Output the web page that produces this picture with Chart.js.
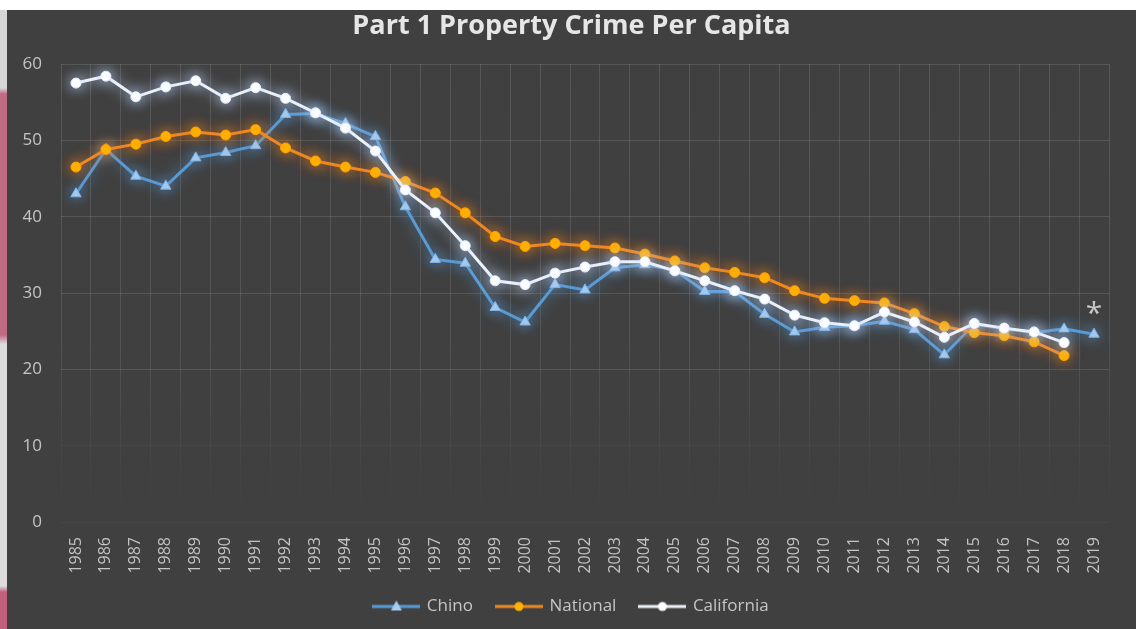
<!DOCTYPE html>
<html>
<head>
<meta charset="utf-8">
<script src="https://cdn.jsdelivr.net/npm/chart.js@4.4.1/dist/chart.umd.min.js"></script>
<style>
  html, body { margin: 0; padding: 0; background: #ffffff; width: 1136px; height: 629px; overflow: hidden; }
  #strip { position: absolute; left: 0; top: 10px; width: 7px; height: 619px;
    background: linear-gradient(to bottom, #d6d6d6 0px, #d6d6d6 78px, #c06a83 84px, #c06a83 325px, #dcdcdc 334px, #dcdcdc 576px, #c25f7e 582px, #c25f7e 619px); }
  #wrap { position: absolute; left: 7px; top: 10px; width: 1129px; height: 619px; background: #404040; }
</style>
</head>
<body>
<div id="strip"></div>
<div id="wrap"><canvas id="c" width="1129" height="619"></canvas></div>
<script>
const years = ['1985','1986','1987','1988','1989','1990','1991','1992','1993','1994','1995','1996','1997','1998','1999','2000','2001','2002','2003','2004','2005','2006','2007','2008','2009','2010','2011','2012','2013','2014','2015','2016','2017','2018','2019'];
const chino = [43.0, 48.8, 45.3, 44.0, 47.7, 48.4, 49.3, 53.4, 53.5, 52.2, 50.5, 41.3, 34.4, 33.9, 28.1, 26.2, 31.1, 30.4, 33.3, 33.7, 33.0, 30.2, 30.2, 27.2, 24.9, 25.5, 25.7, 26.3, 25.2, 21.9, 25.9, 25.3, 24.8, 25.3, 24.6];
const national = [46.5, 48.8, 49.5, 50.5, 51.1, 50.7, 51.4, 49.0, 47.3, 46.5, 45.8, 44.6, 43.1, 40.5, 37.4, 36.1, 36.5, 36.2, 35.9, 35.1, 34.2, 33.3, 32.7, 32.0, 30.3, 29.3, 29.0, 28.7, 27.3, 25.6, 24.8, 24.4, 23.6, 21.8, null];
const california = [57.5, 58.4, 55.7, 57.0, 57.8, 55.5, 56.9, 55.5, 53.6, 51.6, 48.6, 43.5, 40.5, 36.2, 31.6, 31.1, 32.6, 33.4, 34.1, 34.1, 32.9, 31.6, 30.3, 29.2, 27.1, 26.1, 25.7, 27.5, 26.2, 24.2, 26.0, 25.4, 24.9, 23.5, null];
const yTicks = [0, 10, 20, 30, 40, 50, 60];
const seriesNames = ['Chino', 'National', 'California'];
const noteText = '*';

const styles = [
  { line: '#5b9bd5', point: '#a9cdf0', pointBorder: '#7fb2e5', glow: 'rgba(91,155,213,0.95)', shape: 'triangle', r: 6 },
  { line: '#f08a24', point: '#ffb300', pointBorder: '#ffa000', glow: 'rgba(240,130,30,0.9)', shape: 'circle', r: 5 },
  { line: '#eef3fb', point: '#ffffff', pointBorder: '#e6eefa', glow: 'rgba(190,215,255,0.95)', shape: 'circle', r: 5 }
];

function legendIcon(s) {
  const cv = document.createElement('canvas');
  cv.width = 48; cv.height = 14;
  const g = cv.getContext('2d');
  g.strokeStyle = s.line; g.lineWidth = 3;
  g.beginPath(); g.moveTo(0, 7); g.lineTo(48, 7); g.stroke();
  g.fillStyle = s.point;
  if (s.shape === 'triangle') {
    g.beginPath(); g.moveTo(24, 1); g.lineTo(29.5, 11); g.lineTo(18.5, 11); g.closePath(); g.fill();
  } else {
    g.beginPath(); g.arc(24, 7, 4.5, 0, Math.PI * 2); g.fill();
  }
  return cv;
}

const datasets = [chino, national, california].map((d, i) => ({
  label: seriesNames[i],
  data: d,
  borderColor: styles[i].line,
  backgroundColor: styles[i].point,
  pointBackgroundColor: styles[i].point,
  pointBorderColor: styles[i].pointBorder,
  pointBorderWidth: 1,
  pointStyle: styles[i].shape,
  pointRadius: styles[i].r,
  borderWidth: 3,
  tension: 0,
  spanGaps: false,
  order: 3 - i
}));

const glowPlugin = {
  id: 'glow',
  beforeDatasetDraw(chart, args) {
    const ctx = chart.ctx;
    ctx.save();
    ctx.shadowColor = styles[args.index].glow;
    ctx.shadowBlur = 14;
  },
  afterDatasetDraw(chart) { chart.ctx.restore(); }
};

const notePlugin = {
  id: 'note',
  afterDatasetsDraw(chart) {
    const ctx = chart.ctx;
    const xs = chart.scales.x, ys = chart.scales.y;
    const idx = years.length - 1;
    const x = xs.getPixelForValue(idx);
    const y = ys.getPixelForValue(chino[idx]) - 26;
    ctx.save();
    ctx.fillStyle = '#c8c8c8';
    ctx.font = '30px "Open Sans"';
    ctx.textAlign = 'center';
    ctx.textBaseline = 'middle';
    ctx.fillText(noteText, x, y + 6);
    ctx.restore();
  }
};

function vGridColor(ctx) {
  const chart = ctx.chart;
  const a = chart.chartArea;
  if (!a) return 'rgba(255,255,255,0.12)';
  const g = chart.ctx.createLinearGradient(0, a.top, 0, a.bottom);
  g.addColorStop(0, 'rgba(255,255,255,0.12)');
  g.addColorStop(0.6, 'rgba(255,255,255,0.11)');
  g.addColorStop(0.85, 'rgba(255,255,255,0.03)');
  g.addColorStop(1, 'rgba(255,255,255,0.0)');
  return g;
}

new Chart(document.getElementById('c'), {
  type: 'line',
  data: { labels: years, datasets },
  options: {
    responsive: false,
    animation: false,
    layout: { padding: { left: 0, right: 0, top: 0, bottom: 4 } },
    plugins: {
      title: {
        display: true,
        text: 'Part 1 Property Crime Per Capita',
        color: '#e6e6e6',
        font: { family: '"Open Sans"', size: 27, weight: 'bold' },
        padding: { top: 0, bottom: 21.6 }
      },
      legend: {
        display: true,
        position: 'bottom',
        labels: {
          color: '#c4c4c4',
          font: { family: '"Open Sans"', size: 17 },
          usePointStyle: true,
          pointStyleWidth: 44,
          padding: 24,
          generateLabels(chart) {
            return chart.data.datasets.map((ds, i) => ({
              text: ds.label,
              fillStyle: styles[i].point,
              strokeStyle: styles[i].line,
              lineWidth: 0,
              pointStyle: legendIcon(styles[i]),
              hidden: false,
              datasetIndex: i,
              fontColor: '#c4c4c4'
            }));
          }
        }
      },
      tooltip: { enabled: false }
    },
    scales: {
      x: {
        offset: true,
        grid: { color: vGridColor, drawTicks: false, offset: true },
        border: { display: false },
        ticks: {
          color: '#c4c4c4',
          font: { family: '"Open Sans"', size: 16 },
          minRotation: 90, maxRotation: 90,
          autoSkip: false,
          padding: 15
        },
        afterFit(s) { s.height = 52; }
      },
      y: {
        min: 0, max: 60,
        grid: {
          color: (c) => (c.tick && c.tick.value >= 20) ? 'rgba(255,255,255,0.12)' : 'rgba(255,255,255,0.03)',
          drawTicks: false
        },
        border: { display: false },
        afterBuildTicks(s) { s.ticks = yTicks.map(v => ({ value: v })); },
        ticks: {
          color: '#c4c4c4',
          font: { family: '"Open Sans"', size: 17 },
          padding: 19
        },
        afterFit(s) { s.width = 54; }
      },
      yRightSpacer: {
        type: 'linear',
        position: 'right',
        display: true,
        min: 0, max: 60,
        grid: { display: false, drawOnChartArea: false, drawTicks: false },
        border: { display: false },
        ticks: { display: false },
        afterFit(s) { s.width = 27; }
      }
    }
  },
  plugins: [glowPlugin, notePlugin]
});
</script>
</body>
</html>
